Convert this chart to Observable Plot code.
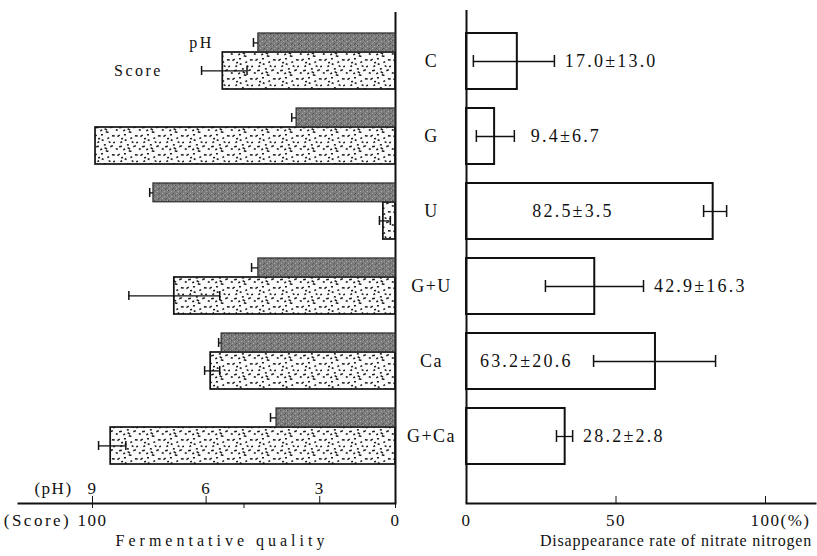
<!DOCTYPE html>
<html><head><meta charset="utf-8">
<script src="https://cdn.jsdelivr.net/npm/d3@7"></script>
<script src="https://cdn.jsdelivr.net/npm/@observablehq/plot@0.6"></script>
<style>
body{margin:0;background:#fff;}
#chart{position:relative;width:817px;height:556px;overflow:hidden;background:#fff;}
#chart svg{position:absolute;top:0;}
#chart svg text{letter-spacing:1.5px;font-family:'Liberation Serif','DejaVu Serif',serif;}
</style></head><body><div id="chart"></div>
<script>
// ---- data ----
const categories = ["C", "G", "U", "G+U", "Ca", "G+Ca"];
// Fermentative quality (left panel)
const scoreValues = [57, 99, 4, 73, 61, 94];
const scoreLow    = [49, null, 1.7, 58, 58, 89];
const scoreHigh   = [64, null, 5.3, 88, 63, 98];
const pHValues = [4.62, 3.61, 7.39, 4.62, 5.59, 4.14];
const pHSd     = [0.13, 0.13, 0.10, 0.18, 0.08, 0.16];
// Disappearance rate of nitrate nitrogen (right panel, %)
const rateValues = [17.0, 9.4, 82.5, 42.9, 63.2, 33.0];
const rateLow    = [2.3, 3.3, 79.3, 26.4, 42.5, 30.1];
const rateHigh   = [29.4, 16.0, 87.0, 59.2, 83.3, 35.5];
const rateLabels = ["17.0±13.0", "9.4±6.7", "82.5±3.5", "42.9±16.3", "63.2±20.6", "28.2±2.8"];
// axes
const scoreTicks = [100, 50, 0];
const scoreTickLabels = ["100", "", "0"];
const pHTicks = [9, 6, 3];
const pHBase = 1;
const rateTicks = [0, 50, 100];

// ---- layout ----
const rows = categories.map((c, i) => ({
  cat: c, score: scoreValues[i], lo: scoreLow[i], hi: scoreHigh[i],
  pH: pHValues[i], pHtop: pHValues[i] + pHSd[i],
  rate: rateValues[i], rlo: rateLow[i], rhi: rateHigh[i], label: rateLabels[i]
}));
const insideLabelAt = {"U": 22, "Ca": 4.5};
const labelX = d => (d.cat in insideLabelAt) ? insideLabelAt[d.cat] : d.rhi + (d.cat === "G" ? 5.5 : 3.5);

const ink = "#111";
const font = "'Liberation Serif', 'DejaVu Serif', serif";
const common = {
  height: 556, marginTop: 12, marginBottom: 53,
  y: {domain: categories, range: [14.25, 483], padding: 0.25, axis: null},
  style: {background: "transparent", overflow: "visible", fontFamily: font, fontSize: "18px", color: ink}
};
const mid = {textAnchor: "middle", lineAnchor: "middle", fontFamily: font, fill: ink};

const scorePlot = Plot.plot({
  ...common, width: 420, marginLeft: 18, marginRight: 25,
  x: {domain: [100, 0], range: [92, 395], axis: null},
  marks: [
    Plot.barX(rows, {x1: 0, x2: "score", y: "cat", insetTop: 19, fill: "url(#dots)", stroke: ink, strokeWidth: 1.7}),
    Plot.ruleY(rows.filter(d => d.lo != null), {x1: "lo", x2: "hi", y: "cat", dy: 9.4, stroke: ink, strokeWidth: 1.3}),
    Plot.tickX(rows.filter(d => d.lo != null), {x: "lo", y: "cat", insetTop: 33, insetBottom: 14, stroke: ink, strokeWidth: 1.5}),
    Plot.tickX(rows.filter(d => d.lo != null), {x: "hi", y: "cat", insetTop: 33, insetBottom: 14, stroke: ink, strokeWidth: 1.5}),
    Plot.ruleX([0], {stroke: ink, strokeWidth: 2}),
    Plot.frame({anchor: "bottom", stroke: ink, strokeWidth: 2}),
    Plot.axisX(scoreTicks, {tickSize: 5, tickFormat: () => "", label: null, stroke: ink}),
    Plot.text(scoreTicks, {x: d => d, frameAnchor: "bottom", dy: 17, text: (d, i) => scoreTickLabels[i], fontSize: 17, ...mid}),
    Plot.text(["(Score)"], {frameAnchor: "bottom-left", dx: 19, dy: 17, fontSize: 17, ...mid}),
    Plot.text(["Fermentative quality"], {frameAnchor: "bottom", dx: 15, dy: 37, fontSize: 16, ...mid}),
    Plot.text([{cat: "C"}], {y: "cat", frameAnchor: "left", dx: 120, dy: 9.4, text: () => "Score", fontSize: 16, ...mid})
  ]
});

const pHPlot = Plot.plot({
  ...common, width: 420, marginLeft: 18, marginRight: 25,
  x: {domain: [9, pHBase], range: [92, 395], axis: null},
  marks: [
    Plot.barX(rows, {x1: pHBase, x2: "pH", y: "cat", insetBottom: 37.25, fill: "url(#gray)", stroke: "#333", strokeWidth: 1.3}),
    Plot.ruleY(rows, {x1: "pH", x2: "pHtop", y: "cat", dy: -18.6, stroke: ink, strokeWidth: 1.3}),
    Plot.tickX(rows, {x: "pHtop", y: "cat", insetTop: 5, insetBottom: 42, stroke: ink, strokeWidth: 1.5}),
    Plot.axisX(pHTicks, {tickSize: -7, tickFormat: () => "", label: null, stroke: ink}),
    Plot.text(pHTicks, {x: d => d, frameAnchor: "bottom", dy: -15, text: d => String(d), fontSize: 17, ...mid}),
    Plot.text(["(pH)"], {frameAnchor: "bottom-left", dx: 35, dy: -15, fontSize: 17, ...mid}),
    Plot.text([{cat: "C"}], {y: "cat", frameAnchor: "left", dx: 183, dy: -18.6, text: () => "pH", fontSize: 16, ...mid})
  ]
});

const ratePlot = Plot.plot({
  ...common, marginTop: 10, width: 437, marginLeft: 86, marginRight: 2,
  x: {domain: [0, 100], range: [86, 385], axis: null},
  marks: [
    Plot.barX(rows, {x1: 0, x2: "rate", y: "cat", fill: "white", stroke: ink, strokeWidth: 2}),
    Plot.ruleY(rows, {x1: "rlo", x2: "rhi", y: "cat", stroke: ink, strokeWidth: 1.3}),
    Plot.tickX(rows, {x: "rlo", y: "cat", insetTop: 22, insetBottom: 22, stroke: ink, strokeWidth: 1.5}),
    Plot.tickX(rows, {x: "rhi", y: "cat", insetTop: 22, insetBottom: 22, stroke: ink, strokeWidth: 1.5}),
    Plot.text(rows, {x: labelX, y: "cat", text: "label", textAnchor: "start", lineAnchor: "middle", fontFamily: font, fill: ink, fontSize: 18}),
    Plot.text(rows, {y: "cat", text: "cat", frameAnchor: "left", dx: -35, fontSize: 18, ...mid}),
    Plot.ruleX([0], {stroke: ink, strokeWidth: 2}),
    Plot.frame({anchor: "bottom", stroke: ink, strokeWidth: 2}),
    Plot.axisX(rateTicks, {tickSize: -7, tickFormat: () => "", label: null, stroke: ink}),
    Plot.text(rateTicks, {x: d => d, frameAnchor: "bottom", dy: 17, text: d => String(d), fontSize: 17, ...mid}),
    Plot.text(["(%)"], {x: [100], frameAnchor: "bottom", dx: 30, dy: 17, fontSize: 17, ...mid}),
    Plot.text(["Disappearance rate of nitrate nitrogen"], {frameAnchor: "bottom", dx: 35, dy: 37, fontSize: 16, ...mid})
  ]
});

// textures
function addPatterns(svg) {
  const defs = d3.select(svg).insert("defs", ":first-child");
  const p = defs.append("pattern").attr("id", "dots").attr("patternUnits", "userSpaceOnUse").attr("width", 23).attr("height", 19);
  p.append("rect").attr("width", 23).attr("height", 19).attr("fill", "#fbfbfb");
  const specks = [[2,3],[9,1],[15,5],[20,2],[5,9],[12,11],[18,13],[1,15],[8,16],[14,17],[21,9],[10,6],[4,13],[17,8],[6,5],[13,14]];
  specks.forEach(([x, y], i) => p.append("rect").attr("x", x).attr("y", y)
    .attr("width", i % 3 === 0 ? 2.8 : 2.0).attr("height", 1.5).attr("fill", "#1a1a1a")
    .attr("transform", `rotate(${(i * 37) % 70 - 35} ${x} ${y})`));
  const g = defs.append("pattern").attr("id", "gray").attr("patternUnits", "userSpaceOnUse").attr("width", 7).attr("height", 5);
  g.append("rect").attr("width", 7).attr("height", 5).attr("fill", "#7c7c7c");
  [[0,0,"#505050"],[3,1,"#b0b0b0"],[5,3,"#505050"],[1,3,"#a8a8a8"],[4,4,"#5c5c5c"],[6,0,"#a0a0a0"]].forEach(([x, y, c]) =>
    g.append("rect").attr("x", x).attr("y", y).attr("width", 1).attr("height", 1).attr("fill", c));
}
addPatterns(scorePlot);

const chart = document.getElementById("chart");
scorePlot.style.left = "0px";
pHPlot.style.left = "0px";
ratePlot.style.left = "380px";
chart.append(scorePlot, pHPlot, ratePlot);

const texts = d3.selectAll("#chart svg text");
texts.filter(function() { return this.textContent === "Fermentative quality"; }).style("letter-spacing", "4px");
texts.filter(function() { return this.textContent.startsWith("Disappearance"); }).style("letter-spacing", "0.8px");
texts.filter(function() { return this.textContent.includes("±"); }).style("letter-spacing", "2.2px");
texts.filter(function() { return this.textContent === "(Score)"; }).style("letter-spacing", "2.5px");
texts.filter(function() { return this.textContent === "Score" || this.textContent === "pH"; }).style("letter-spacing", "2.5px");
</script></body></html>
